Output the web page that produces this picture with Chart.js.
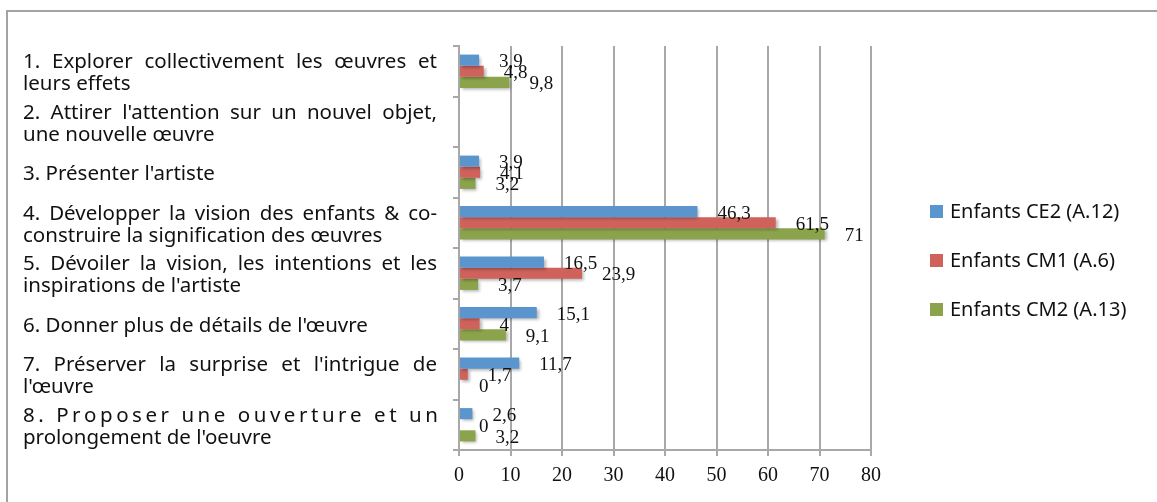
<!DOCTYPE html>
<html>
<head>
<meta charset="utf-8">
<script src="https://cdn.jsdelivr.net/npm/chart.js@4"></script>
<style>
  body { margin: 0; background: #fff; }
  #wrap { position: relative; width: 1157px; height: 502px; overflow: hidden; }
  #frame { position: absolute; left: 6px; top: 10px; width: 1200px; height: 600px;
           border-top: 2px solid #a3a3a3; border-left: 2px solid #a3a3a3; }
  canvas { position: absolute; left: 0; top: 0; }
</style>
</head>
<body>
<div id="wrap">
  <div id="frame"></div>
  <canvas id="chart" width="1157" height="502"></canvas>
</div>
<script>
const categories = [
  ["1. Explorer collectivement les œuvres et", "leurs effets"],
  ["2. Attirer l'attention sur un nouvel objet,", "une nouvelle œuvre"],
  ["3. Présenter l'artiste"],
  ["4. Développer la vision des enfants & co-", "construire la signification des œuvres"],
  ["5. Dévoiler la vision, les intentions et les", "inspirations de l'artiste"],
  ["6. Donner plus de détails de l'œuvre"],
  ["7. Préserver la surprise et l'intrigue de", "l'œuvre"],
  ["8. Proposer une ouverture et un", "prolongement de l'oeuvre"]
];
const seriesNames = ["Enfants CE2 (A.12)", "Enfants CM1 (A.6)", "Enfants CM2 (A.13)"];
const ce2 = [3.9, null, 3.9, 46.3, 16.5, 15.1, 11.7, 2.6];
const cm1 = [4.8, null, 4.1, 61.5, 23.9, 4, 1.7, 0];
const cm2 = [9.8, null, 3.2, 71, 3.7, 9.1, 0, 3.2];
const xTicks = [0, 10, 20, 30, 40, 50, 60, 70, 80];

const colors = ["#5b95cd", "#d0625c", "#8ba44b"];
const sansFont = "'Noto Sans', sans-serif";
const serifFont = "'Liberation Serif', serif";

// bar shadow + value labels (Excel style, a bit to the right of the bar end)
const barExtras = {
  id: "barExtras",
  beforeDatasetsDraw(chart) {
    const ctx = chart.ctx;
    ctx.save();
    ctx.shadowColor = "rgba(0,0,0,0.3)";
    ctx.shadowBlur = 3;
    ctx.shadowOffsetX = 2;
    ctx.shadowOffsetY = 2;
  },
  afterDatasetsDraw(chart) {
    const ctx = chart.ctx;
    ctx.restore();
    ctx.save();
    ctx.font = "19px " + serifFont;
    ctx.fillStyle = "#111";
    ctx.textAlign = "left";
    ctx.textBaseline = "middle";
    chart.data.datasets.forEach((ds, i) => {
      chart.getDatasetMeta(i).data.forEach((bar, j) => {
        const v = ds.data[j];
        if (v === null) return;
        ctx.fillText(String(v).replace(".", ","), bar.x + 20, bar.y + 2);
      });
    });
    ctx.restore();
  }
};

// category labels on the left, justified like the Word original
const yLabels = {
  id: "yLabels",
  afterDraw(chart) {
    const ctx = chart.ctx;
    const y = chart.scales.y;
    const left = 23, right = 437, lh = 22;
    ctx.save();
    ctx.font = "20.5px " + sansFont;
    ctx.fillStyle = "#111";
    ctx.textBaseline = "middle";
    categories.forEach((lines, i) => {
      const cy = y.getPixelForValue(i) + 2;
      const top = cy - (lines.length - 1) * lh / 2;
      lines.forEach((line, k) => {
        const ly = top + k * lh;
        const justify = lines.length > 1 && k < lines.length - 1;
        if (!justify) { ctx.fillText(line, left, ly); return; }
        const words = line.split(" ");
        const w = words.reduce((s, t) => s + ctx.measureText(t).width, 0);
        const gap = (right - left - w) / (words.length - 1);
        const sp = ctx.measureText(" ").width;
        if (gap > sp * 4.5) {
          // too sparse: spread letters instead
          const n = line.length - 1;
          const extra = (right - left - ctx.measureText(line).width) / n;
          let x = left;
          for (const ch of line) {
            ctx.fillText(ch, x, ly);
            x += ctx.measureText(ch).width + extra;
          }
        } else {
          let x = left;
          words.forEach(t => { ctx.fillText(t, x, ly); x += ctx.measureText(t).width + gap; });
        }
      });
    });
    ctx.restore();
  }
};

// legend on the right
const sideLegend = {
  id: "sideLegend",
  afterDraw(chart) {
    const ctx = chart.ctx;
    ctx.save();
    ctx.font = "20px " + sansFont;
    ctx.textBaseline = "middle";
    chart.data.datasets.forEach((ds, i) => {
      const cy = 212 + i * 49;
      ctx.fillStyle = ds.backgroundColor;
      ctx.fillRect(930, cy - 7, 13, 13);
      ctx.fillStyle = "#111";
      ctx.fillText(ds.label, 950, cy);
    });
    ctx.restore();
  }
};

new Chart(document.getElementById("chart").getContext("2d"), {
  type: "bar",
  data: {
    labels: categories.map(c => c.join(" ")),
    datasets: [
      { label: seriesNames[0], data: ce2, backgroundColor: colors[0] },
      { label: seriesNames[1], data: cm1, backgroundColor: colors[1] },
      { label: seriesNames[2], data: cm2, backgroundColor: colors[2] }
    ]
  },
  options: {
    indexAxis: "y",
    responsive: false,
    animation: false,
    events: [],
    categoryPercentage: 0.66,
    barPercentage: 1,
    layout: { padding: { top: 46, right: 286, left: 0, bottom: 0 } },
    plugins: { legend: { display: false }, tooltip: { enabled: false } },
    scales: {
      x: {
        min: 0, max: 80,
        afterBuildTicks: s => { s.ticks = xTicks.map(v => ({ value: v })); },
        afterFit: s => { s.height = 52; },
        grid: { color: "#a8a8a8", lineWidth: 2, tickLength: 6 },
        border: { color: "#a8a8a8", width: 2 },
        ticks: { color: "#111", font: { family: serifFont, size: 20 }, padding: 8 }
      },
      y: {
        afterFit: s => { s.width = 459; },
        grid: { offset: true, drawOnChartArea: false, color: "#a8a8a8", lineWidth: 2, tickLength: 6 },
        border: { color: "#a8a8a8", width: 2 },
        ticks: { display: false }
      }
    }
  },
  plugins: [barExtras, yLabels, sideLegend]
});
</script>
</body>
</html>
